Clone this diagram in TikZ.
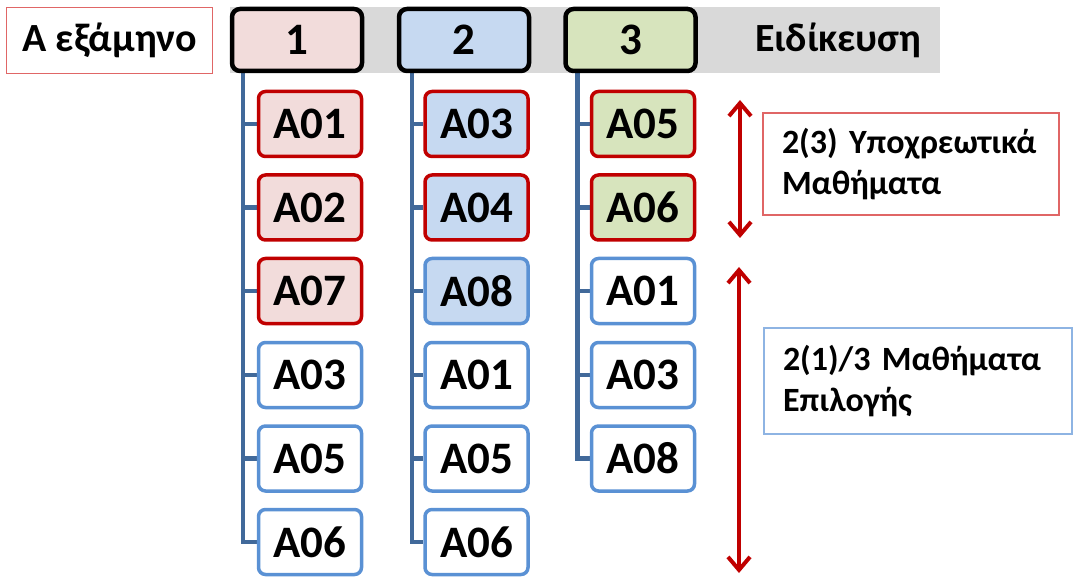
\documentclass[tikz,border=0pt]{standalone}
\usepackage{fontspec}
\setmainfont{Carlito}
\usetikzlibrary{arrows.meta,backgrounds}
\definecolor{pinkfill}{HTML}{F2DCDB}
\definecolor{bluefill}{HTML}{C6D9F1}
\definecolor{greenfill}{HTML}{D7E4BD}
\definecolor{darkred}{HTML}{C00000}
\definecolor{optblue}{HTML}{5A91D4}
\definecolor{stemblue}{HTML}{41699A}
\definecolor{band}{HTML}{D9D9D9}
\definecolor{softred}{HTML}{E06666}
\definecolor{softblue}{HTML}{8EB4E3}
\tikzset{
  x=1pt, y=-1pt,
  big/.style={font=\fontsize{45}{50}\selectfont\bfseries},
  label/.style={font=\fontsize{40}{44}\selectfont\bfseries},
  head/.style={big, draw=black, line width=4.5pt, rounded corners=8pt,
    minimum width=130pt, minimum height=62pt, inner sep=0pt},
  course/.style={big, line width=3.5pt, rounded corners=7pt,
    minimum width=103pt, minimum height=65pt, inner sep=0pt},
  core/.style={course, draw=darkred},
  opt/.style={course, draw=optblue, fill=white},
  stem/.style={draw=stemblue, line width=4.5pt},
  span/.style={draw=darkred, line width=4pt,
    {Straight Barb[length=13pt,width=22pt,line width=4pt]}-{Straight Barb[length=13pt,width=22pt,line width=4pt]}},
  note/.style={font=\fontsize{34}{41}\selectfont\bfseries, align=left,
    inner xsep=19pt, inner ysep=0pt, line width=1.3pt}
}
\begin{document}
\begin{tikzpicture}
\useasboundingbox (0,0) rectangle (1073,577);

% semester label
\node[label, draw=softred, line width=1.3pt, minimum width=206pt, minimum height=66pt]
  (sem) at (109.5,40.5) {Α εξάμηνο};

% column headers
\node[head, fill=pinkfill]  (h1) at (297,40) {1};
\node[head, fill=bluefill]  (h2) at (464,40) {2};
\node[head, fill=greenfill] (h3) at (630.5,40) {3};
\node[label] (spec) at (838,40) {Ειδίκευση};

% column 1
\node[core, fill=pinkfill] (c11) at (310,124)   {A01};
\node[core, fill=pinkfill] (c12) at (310,207.5) {A02};
\node[core, fill=pinkfill] (c13) at (310,291)   {A07};
\node[opt] (c14) at (310,375)   {A03};
\node[opt] (c15) at (310,458.5) {A05};
\node[opt] (c16) at (310,542)   {A06};

% column 2
\node[core, fill=bluefill] (c21) at (476.5,124)   {A03};
\node[core, fill=bluefill] (c22) at (476.5,207.5) {A04};
\node[opt, fill=bluefill]  (c23) at (476.5,291)   {A08};
\node[opt] (c24) at (476.5,375)   {A01};
\node[opt] (c25) at (476.5,458.5) {A05};
\node[opt] (c26) at (476.5,542)   {A06};

% column 3
\node[core, fill=greenfill] (c31) at (643,124)   {A05};
\node[core, fill=greenfill] (c32) at (643,207.5) {A06};
\node[opt] (c33) at (643,291)   {A01};
\node[opt] (c34) at (643,375)   {A03};
\node[opt] (c35) at (643,458.5) {A08};

\begin{scope}[on background layer]
  % grey band behind the specialisation headers
  \fill[band] (h1.north west) rectangle (940,73);
  % stems from each header down to its courses
  \foreach \c in {c11,c12,c13,c14,c15,c16}
    \draw[stem] ([xshift=13pt]h1.south west) |- (\c.west);
  \foreach \c in {c21,c22,c23,c24,c25,c26}
    \draw[stem] ([xshift=15pt]h2.south west) |- (\c.west);
  \foreach \c in {c31,c32,c33,c34,c35}
    \draw[stem] ([xshift=14pt]h3.south west) |- (\c.west);
\end{scope}

% range arrows
\coordinate (r1t) at (740,100);
\coordinate (r1b) at (740,238);
\coordinate (r2t) at (739,267);
\coordinate (r2b) at (739,573);
\draw[span] (r1t) -- (r1b);
\draw[span] (r2t) -- (r2b);

% notes
\node[note, draw=softred, text width=258pt, minimum height=102pt]
  (n1) at (911,164) {2(3)~Υποχρεωτικά\\Μαθήματα};
\node[note, draw=softblue, text width=270pt, minimum height=106pt]
  (n2) at (918,381) {2(1)/3~Μαθήματα\\Επιλογής};
\end{tikzpicture}
\end{document}
